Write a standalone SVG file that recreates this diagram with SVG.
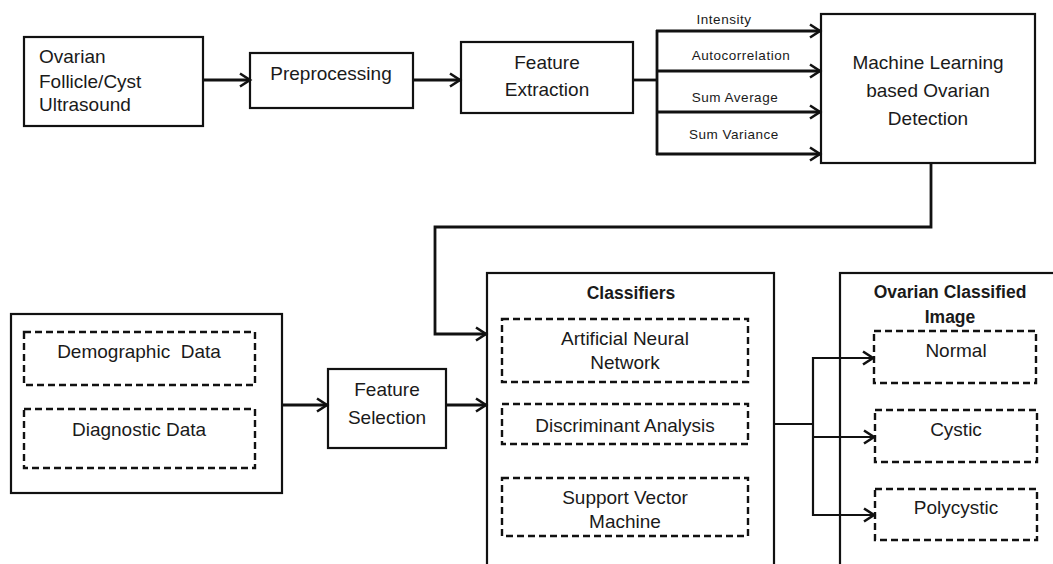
<svg xmlns="http://www.w3.org/2000/svg" width="1053" height="564" viewBox="0 0 1053 564">
  <defs>
    <marker id="chev" markerUnits="userSpaceOnUse" markerWidth="14" markerHeight="16" refX="11" refY="7" orient="auto" overflow="visible">
      <path d="M1,0.5 L11,7 L1,13.5" fill="none" stroke="#111" stroke-width="2.6" stroke-linejoin="miter"/>
    </marker>
    <style>
      .box { fill: #fff; stroke: #111; stroke-width: 2.2; }
      .dash { fill: none; stroke: #111; stroke-width: 2.4; stroke-dasharray: 7 4; }
      .wire { fill: none; stroke: #111; stroke-width: 2.8; }
      .arrow { fill: none; stroke: #111; stroke-width: 2.8; marker-end: url(#chev); }
      .thin { stroke-width: 2.2; }
      text { font-family: "Liberation Sans", Arial, sans-serif; fill: #1a1a1a; }
      .t { font-size: 19px; text-anchor: middle; }
      .tl { font-size: 19px; text-anchor: start; }
      .lbl { font-size: 13.5px; text-anchor: middle; letter-spacing: 0.5px; }
      .hd { font-size: 17.5px; font-weight: bold; text-anchor: middle; }
    </style>
  </defs>

  <rect width="1053" height="564" fill="#fff"/>

  <g id="ultrasound">
    <rect class="box" x="24" y="37" width="179" height="89"/>
    <text class="tl" x="39" y="63">Ovarian</text>
    <text class="tl" x="39" y="88">Follicle/Cyst</text>
    <text class="tl" x="39" y="111">Ultrasound</text>
  </g>

  <g id="preprocessing">
    <rect class="box" x="250" y="53" width="163" height="55"/>
    <text class="t" x="331" y="80">Preprocessing</text>
  </g>

  <g id="feature-extraction">
    <rect class="box" x="461" y="42" width="172" height="71"/>
    <text class="t" x="547" y="69">Feature</text>
    <text class="t" x="547" y="96">Extraction</text>
  </g>

  <g id="ml-detection">
    <rect class="box" x="821" y="14" width="214" height="149"/>
    <text class="t" x="928" y="69">Machine Learning</text>
    <text class="t" x="928" y="97">based Ovarian</text>
    <text class="t" x="928" y="125">Detection</text>
  </g>

  <g id="data-sources">
    <rect class="box" x="11" y="314" width="271" height="179"/>
    <rect class="dash" x="24" y="332" width="231" height="53"/>
    <text class="t" x="139" y="358" xml:space="preserve">Demographic  Data</text>
    <rect class="dash" x="24" y="409" width="231" height="59"/>
    <text class="t" x="139" y="436">Diagnostic Data</text>
  </g>

  <g id="feature-selection">
    <rect class="box" x="328" y="369" width="118" height="79"/>
    <text class="t" x="387" y="396">Feature</text>
    <text class="t" x="387" y="424">Selection</text>
  </g>

  <g id="classifiers">
    <rect class="box" x="487" y="273" width="287" height="300"/>
    <text class="hd" x="631" y="299">Classifiers</text>
    <rect class="dash" x="502" y="319" width="246" height="63"/>
    <text class="t" x="625" y="345">Artificial Neural</text>
    <text class="t" x="625" y="369">Network</text>
    <rect class="dash" x="502" y="404" width="246" height="40"/>
    <text class="t" x="625" y="432">Discriminant Analysis</text>
    <rect class="dash" x="502" y="478" width="246" height="58"/>
    <text class="t" x="625" y="504">Support Vector</text>
    <text class="t" x="625" y="528">Machine</text>
  </g>

  <g id="classified-image">
    <rect class="box" x="840" y="273" width="230" height="300"/>
    <text class="hd" x="950" y="298">Ovarian Classified</text>
    <text class="hd" x="950" y="323">Image</text>
    <rect class="dash" x="874" y="331" width="162" height="52"/>
    <text class="t" x="956" y="357">Normal</text>
    <rect class="dash" x="875" y="410" width="162" height="52"/>
    <text class="t" x="956" y="436">Cystic</text>
    <rect class="dash" x="875" y="489" width="162" height="51"/>
    <text class="t" x="956" y="514">Polycystic</text>
  </g>

  <!-- connectors, drawn last so they pass over box edges -->
  <g id="connectors">
    <line class="arrow" x1="203" y1="80" x2="250" y2="80"/>
    <line class="arrow" x1="413" y1="80" x2="460" y2="80"/>
    <polyline class="wire" points="633,80 657,80"/>
    <line class="wire" x1="657" y1="30" x2="657" y2="155"/>
    <line class="arrow" x1="656" y1="31" x2="820" y2="31"/>
    <line class="arrow" x1="656" y1="71" x2="820" y2="71"/>
    <line class="arrow" x1="656" y1="112" x2="820" y2="112"/>
    <line class="arrow" x1="656" y1="154" x2="820" y2="154"/>
    <polyline class="arrow" points="931,163 931,227 435,227 435,334 486,334"/>
    <line class="arrow" x1="282" y1="405" x2="327" y2="405"/>
    <line class="arrow" x1="446" y1="405" x2="486" y2="405"/>
    <line class="wire thin" x1="774" y1="424" x2="813" y2="424"/>
    <line class="wire thin" x1="813" y1="357" x2="813" y2="516"/>
    <line class="arrow thin" x1="812" y1="358" x2="873" y2="358"/>
    <line class="arrow thin" x1="812" y1="437" x2="874" y2="437"/>
    <line class="arrow thin" x1="812" y1="515" x2="874" y2="515"/>
    <text class="lbl" x="724" y="24">Intensity</text>
    <text class="lbl" x="741" y="60">Autocorrelation</text>
    <text class="lbl" x="735" y="102">Sum Average</text>
    <text class="lbl" x="734" y="139">Sum Variance</text>
  </g>
</svg>
